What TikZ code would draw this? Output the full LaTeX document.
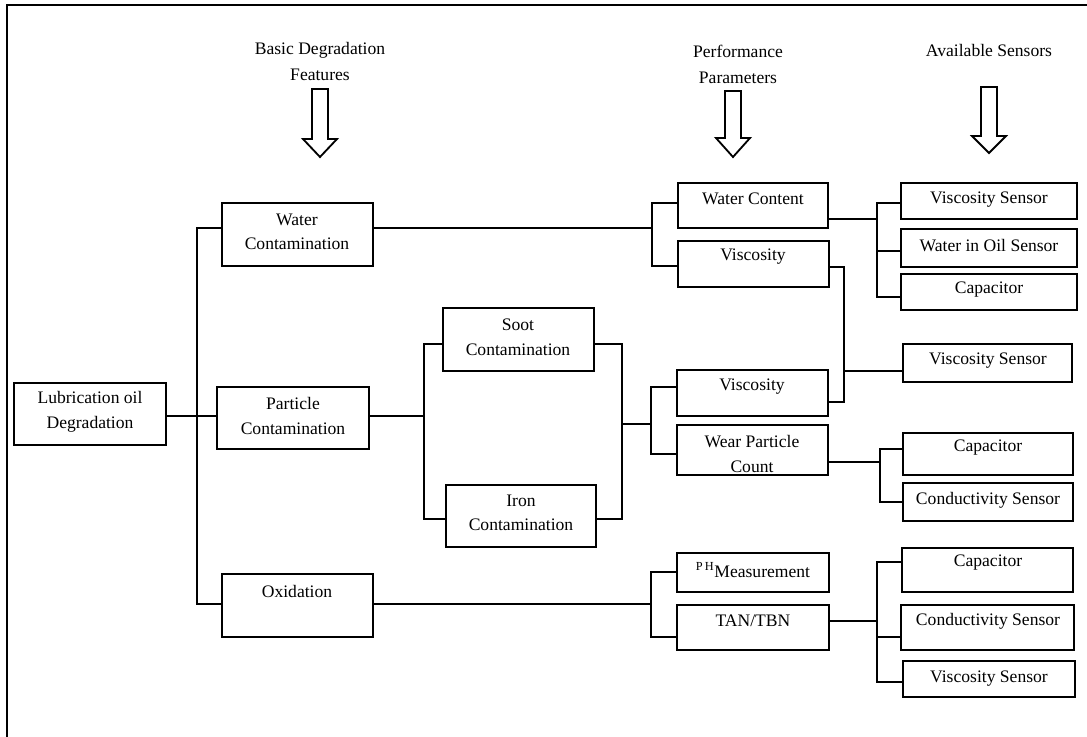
\documentclass[tikz,border=0pt]{standalone}
\usepackage{fontspec}
\setmainfont{Liberation Serif}
\usetikzlibrary{fit}
\begin{document}
\begin{tikzpicture}[x=0.025cm,y=-0.025cm,
  box/.style={draw, line width=1.1pt, inner sep=0pt},
  txt/.style={align=center, font=\fontsize{12.5}{17.5}\selectfont, inner sep=0pt},
  head/.style={align=center, font=\fontsize{12.5}{18.5}\selectfont, inner sep=0pt},
  conn/.style={line width=1pt},
  hollow/.style={draw, line width=1.3pt, line join=miter},
  frame/.style={line width=2pt}]
\useasboundingbox (0,0) rectangle (1087,737);
% frame
\draw[frame] (7,737) -- (7,5) -- (1087,5);
% headers
\node[head] (h1) at (320,61) {Basic Degradation\\Features};
\node[head] (h2) at (738,64) {Performance\\Parameters};
\node[head] (h3) at (989,50) {Available Sensors};
% hollow arrows
\draw[hollow] (312,89) -- (328,89) -- (328,139) -- (337,139) -- (320,157) -- (303,139) -- (312,139) -- cycle;
\draw[hollow] (725,91) -- (741,91) -- (741,138) -- (750,138) -- (733,157) -- (716,138) -- (725,138) -- cycle;
\draw[hollow] (981,87) -- (997,87) -- (997,136) -- (1006,136) -- (989,153) -- (972,136) -- (981,136) -- cycle;
% boxes
\node[box, fit={(14,383)(166,445)}] (lub) {};
\node[txt] (tlub) at (90,412) {Lubrication oil\\Degradation};
\node[box, fit={(222,203)(373,266)}] (wc) {};
\node[txt] (twc) at (297,232) {Water\\Contamination};
\node[box, fit={(217,387)(369,449)}] (pc) {};
\node[txt] (tpc) at (293,416) {Particle\\Contamination};
\node[box, fit={(222,574)(373,637)}] (ox) {};
\node[txt] (tox) at (297,591) {Oxidation};
\node[box, fit={(443,308)(594,371)}] (soot) {};
\node[txt] (tsoot) at (518,337) {Soot\\Contamination};
\node[box, fit={(446,485)(596,547)}] (iron) {};
\node[txt] (tiron) at (521,513) {Iron\\Contamination};
\node[box, fit={(678,183)(828,228)}] (wcon) {};
\node[txt] (twcon) at (753,199) {Water Content};
\node[box, fit={(678,241)(829,287)}] (vis1) {};
\node[txt] (tvis1) at (753,257) {Viscosity};
\node[box, fit={(677,370)(828,416)}] (vis2) {};
\node[txt] (tvis2) at (752,387) {Viscosity};
\node[box, fit={(677,425)(828,475)}] (wear) {};
\node[txt] (twear) at (752,454) {Wear Particle\\Count};
\node[box, fit={(677,553)(829,592)}] (ph) {};
\node[txt] (tph) at (753,570) {\textsuperscript{P\,H}Measurement};
\node[box, fit={(677,605)(829,650)}] (tan) {};
\node[txt] (ttan) at (753,621) {TAN/TBN};
\node[box, fit={(901,183)(1077,219)}] (vs1) {};
\node[txt] (tvs1) at (989,200) {Viscosity Sensor};
\node[box, fit={(901,229)(1077,267)}] (wio) {};
\node[txt] (twio) at (989,246) {Water in Oil Sensor};
\node[box, fit={(901,274)(1077,310)}] (cap1) {};
\node[txt] (tcap1) at (989,290) {Capacitor};
\node[box, fit={(903,344)(1072,382)}] (vs2) {};
\node[txt] (tvs2) at (988,361) {Viscosity Sensor};
\node[box, fit={(903,433)(1073,475)}] (cap2) {};
\node[txt] (tcap2) at (988,448) {Capacitor};
\node[box, fit={(903,483)(1073,521)}] (cond2) {};
\node[txt] (tcond2) at (988,500) {Conductivity Sensor};
\node[box, fit={(902,548)(1073,592)}] (cap3) {};
\node[txt] (tcap3) at (988,563) {Capacitor};
\node[box, fit={(901,605)(1074,650)}] (cond3) {};
\node[txt] (tcond3) at (988,621) {Conductivity Sensor};
\node[box, fit={(903,661)(1075,697)}] (vs3) {};
\node[txt] (tvs3) at (989,679) {Viscosity Sensor};
% connectors
\draw[conn] (wc.west |- 0,228) -| (197,604) -- (ox.west |- 0,604);
\draw[conn] (lub.east |- 0,416) -- (pc.west |- 0,416);
\draw[conn] (wc.east |- 0,228) -- (652,228);
\draw[conn] (wcon.west |- 0,203) -| (652,266) -- (vis1.west |- 0,266);
\draw[conn] (wcon.east |- 0,219) -- (877,219);
\draw[conn] (vs1.west |- 0,203) -| (877,297) -- (cap1.west |- 0,297);
\draw[conn] (877,251) -- (wio.west |- 0,251);
\draw[conn] (vis1.east |- 0,267) -| (844,402) -- (vis2.east |- 0,402);
\draw[conn] (844,371) -- (vs2.west |- 0,371);
\draw[conn] (pc.east |- 0,416) -- (424,416);
\draw[conn] (soot.west |- 0,344) -| (424,519) -- (iron.west |- 0,519);
\draw[conn] (soot.east |- 0,344) -| (622,519) -- (iron.east |- 0,519);
\draw[conn] (622,424) -- (651,424);
\draw[conn] (vis2.west |- 0,387) -| (651,454) -- (wear.west |- 0,454);
\draw[conn] (wear.east |- 0,462) -- (880,462);
\draw[conn] (cap2.west |- 0,449) -| (880,502) -- (cond2.west |- 0,502);
\draw[conn] (ox.east |- 0,604) -- (651,604);
\draw[conn] (ph.west |- 0,572) -| (651,637) -- (tan.west |- 0,637);
\draw[conn] (tan.east |- 0,621) -- (877,621);
\draw[conn] (cap3.west |- 0,562) -| (877,682) -- (vs3.west |- 0,682);
\draw[conn] (877,637) -- (cond3.west |- 0,637);
\end{tikzpicture}
\end{document}
